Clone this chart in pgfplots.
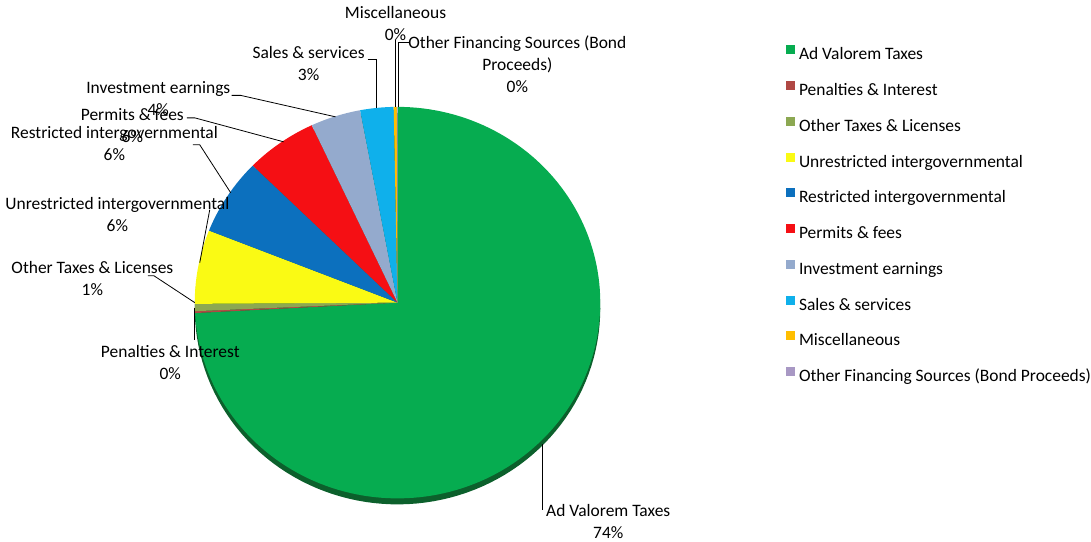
\documentclass[border=0pt]{standalone}
\usepackage{fontspec}
\setmainfont{Carlito}
\usepackage{pgfplots}
\pgfplotsset{compat=1.18}
\definecolor{cAd}{RGB}{6,172,80}
\definecolor{cPen}{RGB}{176,72,68}
\definecolor{cOth}{RGB}{140,168,82}
\definecolor{cUnr}{RGB}{250,250,20}
\definecolor{cRes}{RGB}{12,112,190}
\definecolor{cPer}{RGB}{245,15,20}
\definecolor{cInv}{RGB}{148,170,205}
\definecolor{cSal}{RGB}{15,176,235}
\definecolor{cMis}{RGB}{255,190,0}
\definecolor{cOFS}{RGB}{168,152,196}
\definecolor{cShadow}{RGB}{12,96,44}
\tikzset{
  lbl/.style={font=\fontsize{13.1}{16.5}\selectfont, align=center, inner sep=0pt, text=black},
  ll/.style={draw=black, line width=0.6pt},
}
% shares of revenue, percent
\def\vAd{74.15}\def\vPen{0.15}\def\vOth{0.6}\def\vUnr{6.1}\def\vRes{6.35}%
\def\vPer{5.7}\def\vInv{4.0}\def\vSal{2.65}\def\vMis{0.25}\def\vOFS{0.05}%
\pgfmathsetmacro\aO{90}%
\pgfmathsetmacro\aA{\aO-3.6*\vAd}%
\pgfmathsetmacro\aB{\aA-3.6*\vPen}%
\pgfmathsetmacro\aC{\aB-3.6*\vOth}%
\pgfmathsetmacro\aD{\aC-3.6*\vUnr}%
\pgfmathsetmacro\aE{\aD-3.6*\vRes}%
\pgfmathsetmacro\aF{\aE-3.6*\vPer}%
\pgfmathsetmacro\aG{\aF-3.6*\vInv}%
\pgfmathsetmacro\aH{\aG-3.6*\vSal}%
\pgfmathsetmacro\aI{\aH-3.6*\vMis}%
\pgfmathsetmacro\aJ{\aI-3.6*\vOFS}%
\begin{document}%
\begin{tikzpicture}
\begin{axis}[
  x=0.75pt, y=0.75pt, xmin=0, xmax=1091, ymin=0, ymax=542, y dir=reverse,
  hide axis, ticks=none, clip=false,
  legend cell align=left,
  legend image code/.code={\fill[#1] (0pt,0.85pt) rectangle (6.75pt,7.6pt);},
  legend style={at={(axis cs:787,45.4)}, anchor=north west, draw=none, fill=none,
    inner sep=0pt, outer sep=0pt, row sep=13.0pt,
    font=\fontsize{13.1}{15}\selectfont,
    nodes={inner sep=0pt, text height=9.5pt, text depth=3pt},
    /tikz/every odd column/.append style={column sep=3pt}},
]
\path (axis cs:0,0) rectangle (axis cs:1091,542);
\addplot[fill=cShadow, draw=none, domain=0:360, samples=150, forget plot]
  ({398+203*cos(x)},{309+196*sin(x)});
\addplot[fill=cAd, draw=none, domain=\aA:\aO, samples=150] ({398+203*cos(x)},{303-196*sin(x)}) -- (398,303) -- cycle;
\addlegendentry{Ad Valorem Taxes}
\addplot[fill=cPen, draw=none, domain=\aB:\aA, samples=3] ({398+203*cos(x)},{303-196*sin(x)}) -- (398,303) -- cycle;
\addlegendentry{Penalties \& Interest}
\addplot[fill=cOth, draw=none, domain=\aC:\aB, samples=4] ({398+203*cos(x)},{303-196*sin(x)}) -- (398,303) -- cycle;
\addlegendentry{Other Taxes \& Licenses}
\addplot[fill=cUnr, draw=none, domain=\aD:\aC, samples=20] ({398+203*cos(x)},{303-196*sin(x)}) -- (398,303) -- cycle;
\addlegendentry{Unrestricted intergovernmental}
\addplot[fill=cRes, draw=none, domain=\aE:\aD, samples=20] ({398+203*cos(x)},{303-196*sin(x)}) -- (398,303) -- cycle;
\addlegendentry{Restricted intergovernmental}
\addplot[fill=cPer, draw=none, domain=\aF:\aE, samples=20] ({398+203*cos(x)},{303-196*sin(x)}) -- (398,303) -- cycle;
\addlegendentry{Permits \& fees}
\addplot[fill=cInv, draw=none, domain=\aG:\aF, samples=15] ({398+203*cos(x)},{303-196*sin(x)}) -- (398,303) -- cycle;
\addlegendentry{Investment earnings}
\addplot[fill=cSal, draw=none, domain=\aH:\aG, samples=10] ({398+203*cos(x)},{303-196*sin(x)}) -- (398,303) -- cycle;
\addlegendentry{Sales \& services}
\addplot[fill=cMis, draw=none, domain=\aI:\aH, samples=3] ({398+203*cos(x)},{303-196*sin(x)}) -- (398,303) -- cycle;
\addlegendentry{Miscellaneous}
\addplot[fill=cOFS, draw=none, domain=\aJ:\aI, samples=2] ({398+203*cos(x)},{303-196*sin(x)}) -- (398,303) -- cycle;
\addlegendentry{Other Financing Sources (Bond Proceeds)}
% leader lines
\draw[ll] (395.5,40) -- (395.5,107);
\draw[ll] (411,42) -- (399,42) -- (399,107);
\draw[ll] (368,59) -- (377,59) -- (377,108);
\draw[ll] (232,95.5) -- (241,95.5) -- (336,117);
\draw[ll] (187,118) -- (195,118) -- (284,142);
\draw[ll] (193,145) -- (200,145) -- (231,193);
\draw[ll] (210,210) -- (200,263);
\draw[ll] (148,276) -- (154,276) -- (195,303);
\draw[ll] (195,308) -- (195,340);
\draw[ll] (543,445) -- (543,511);
% data labels
\node[lbl] at (609,522) {Ad Valorem Taxes\\74\%};
\node[lbl] at (170.5,362.5) {Penalties \& Interest\\0\%};
\node[lbl] at (92.5,278.5) {Other Taxes \& Licenses\\1\%};
\node[lbl] at (117.5,215) {Unrestricted intergovernmental\\6\%};
\node[lbl] at (114.5,144) {Restricted intergovernmental\\6\%};
\node[lbl] at (132.5,126) {Permits \& fees\\6\%};
\node[lbl] at (158.5,98.5) {Investment earnings\\4\%};
\node[lbl] at (309,64) {Sales \& services\\3\%};
\node[lbl] at (396,24) {Miscellaneous\\0\%};
\node[lbl] at (518,64.5) {Other Financing Sources (Bond\\Proceeds)\\0\%};
\end{axis}
\end{tikzpicture}%
\end{document}
